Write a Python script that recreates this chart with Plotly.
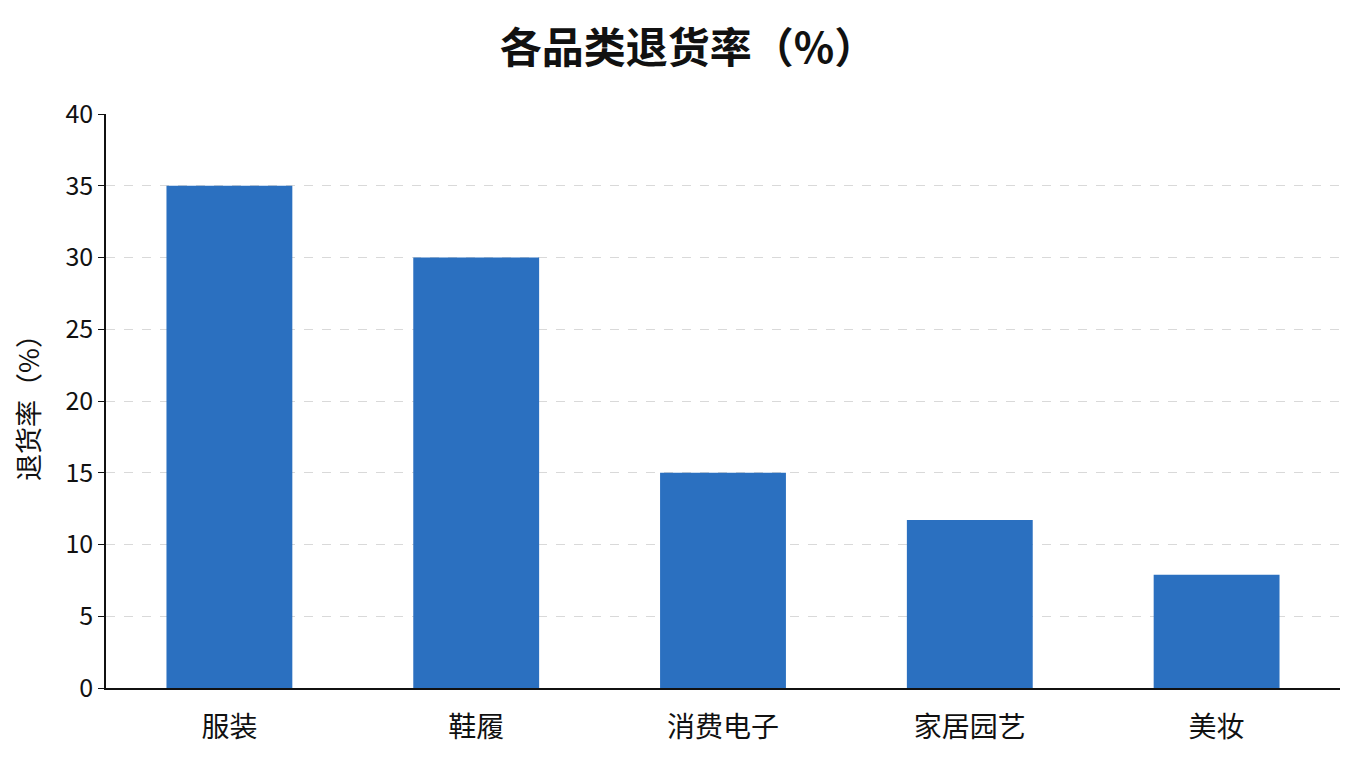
import plotly.graph_objects as go

categories = ["服装", "鞋履", "消费电子", "家居园艺", "美妆"]
return_rates = [35, 30, 15, 11.7, 7.9]
y_ticks = [0, 5, 10, 15, 20, 25, 30, 35, 40]

FONT = "Noto Sans CJK SC"

fig = go.Figure(go.Bar(x=categories, y=return_rates,
                       marker_color="#2B70C0", marker_line_width=0,
                       width=0.51))

fig.update_layout(
    width=1360, height=768,
    margin=dict(l=98, r=28, t=106, b=88),
    paper_bgcolor="white", plot_bgcolor="white",
    font=dict(family=FONT, color="#111111"),
    title=dict(text="<b>各品类退货率（%）</b>", x=0.5, xanchor="center",
               y=0.948, yanchor="middle", font=dict(size=42, family=FONT)),
    showlegend=False,
)

fig.update_xaxes(showline=True, linecolor="#111111", linewidth=1.5,
                 ticks="", tickfont=dict(size=28), ticklabelstandoff=14,
                 showgrid=False)
fig.update_yaxes(range=[0, 40], tickvals=y_ticks, showline=True,
                 linecolor="#111111", linewidth=1.5, ticks="outside",
                 ticklen=6, tickcolor="#111111", tickfont=dict(size=25),
                 showgrid=True, gridcolor="#d9d9d9", griddash="dash",
                 zeroline=False,
                 title=dict(text="退货率（%）", font=dict(size=27), standoff=26))

fig.write_html("out.html")
